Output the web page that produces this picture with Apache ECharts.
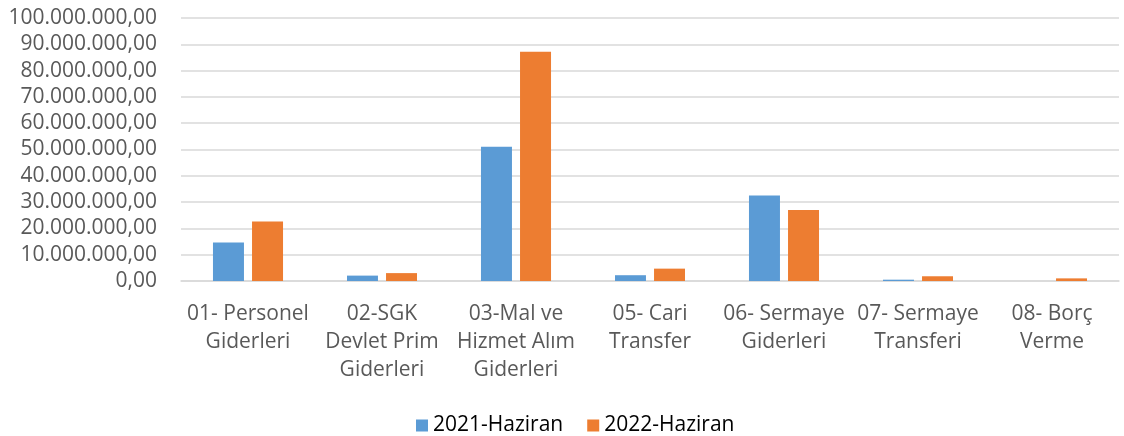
<!DOCTYPE html>
<html><head><meta charset="utf-8">
<script src="https://cdn.jsdelivr.net/npm/echarts@6/dist/echarts.min.js"></script>
<style>html,body{margin:0;padding:0;background:#fff}#c{width:1124px;height:436px}</style>
</head><body><div id="c"></div>
<script>
const categories = ["01- Personel\nGiderleri", "02-SGK\nDevlet Prim\nGiderleri", "03-Mal ve\nHizmet Alım\nGiderleri", "05- Cari\nTransfer", "06- Sermaye\nGiderleri", "07- Sermaye\nTransferi", "08- Borç\nVerme"];
const seriesNames = ["2021-Haziran", "2022-Haziran"];
const values2021 = [14600000, 2050000, 51000000, 2200000, 32500000, 500000, 0];
const values2022 = [22600000, 3000000, 87200000, 4700000, 27000000, 1800000, 1000000];
const yMin = 0, yMax = 100000000, yStep = 10000000;

function fmt(v){
  const s = Math.round(v).toString().replace(/\B(?=(\d{3})+(?!\d))/g, '.');
  return s + ',00';
}
const FONT = 'Open Sans';
const chart = echarts.init(document.getElementById('c'));
chart.setOption({
  animation: false,
  textStyle: {fontFamily: FONT},
  grid: {left: 181, right: 5, top: 18, bottom: 155, containLabel: false},
  legend: {
    top: 410, left: 411,
    itemWidth: 12, itemHeight: 12, itemGap: 24,
    icon: 'rect',
    textStyle: {fontFamily: FONT, fontSize: 21, color: '#000'},
    data: seriesNames
  },
  xAxis: {
    type: 'category', data: categories,
    axisLine: {show: true, lineStyle: {color: '#d9d9d9', width: 1.5}},
    axisTick: {show: false},
    axisLabel: {interval: 0, margin: 19, fontFamily: FONT, fontSize: 21, color: '#595959', lineHeight: 28, align: 'center'}
  },
  yAxis: {
    type: 'value', min: yMin, max: yMax, interval: yStep,
    axisLine: {show: false}, axisTick: {show: false},
    splitLine: {lineStyle: {color: '#d9d9d9', width: 1.5}},
    axisLabel: {margin: 24, fontFamily: FONT, fontSize: 21, color: '#595959', formatter: fmt}
  },
  series: [
    {name: seriesNames[0], type: 'bar', data: values2021, barWidth: 31, barGap: '26%',
     itemStyle: {color: '#5b9bd5'}},
    {name: seriesNames[1], type: 'bar', data: values2022, barWidth: 31, barGap: '26%',
     itemStyle: {color: '#ed7d31'}}
  ]
});
</script></body></html>
